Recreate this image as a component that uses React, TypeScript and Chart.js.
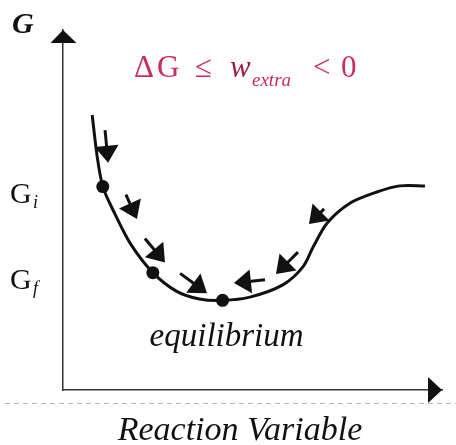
import React, { useEffect, useRef } from "react";
import { Chart, registerables } from "chart.js";

Chart.register(...registerables);

// Gibbs energy along the reaction coordinate
const reactionVar = [0.77, 0.9, 1.05, 1.32, 1.77, 2.37, 3.0, 3.6, 4.21, 4.93, 5.8, 6.33, 6.6, 6.97, 7.57, 8.28, 8.89, 9.55];
const gibbs = [7.64, 6.5, 5.65, 5.0, 4.08, 3.26, 2.74, 2.53, 2.49, 2.58, 2.92, 3.42, 3.97, 4.64, 5.19, 5.5, 5.67, 5.67];

// Marked states: initial, final, equilibrium
const stateX = [1.05, 2.37, 4.21];
const stateG = [5.65, 3.26, 2.49];

// Energy levels named on the G axis
const levelValues = [5.65, 3.26];
const levelSubscripts = ["i", "f"];

// Direction-of-change arrows (tail -> tip)
const arrowTailX = [1.11, 1.66, 2.16, 3.09, 5.33, 6.2, 6.89];
const arrowTailG = [7.22, 5.43, 4.21, 3.24, 3.06, 3.83, 5.03];
const arrowTipX = [1.19, 1.95, 2.69, 3.8, 4.51, 5.62, 6.49];
const arrowTipG = [6.31, 4.75, 3.54, 2.69, 2.97, 3.22, 4.61];

const yAxisLabel = "G";
const xAxisLabel = "Reaction Variable";
const equilibriumLabel = "equilibrium";

const SERIF = '"Liberation Serif", "Times New Roman", serif';
const INK = "#111";
const ACCENT = "#cc2b5e";
const ACCENT_DARK = "#9c2046";

function drawArrow(ctx: CanvasRenderingContext2D, x1: number, y1: number, x2: number, y2: number) {
  const dx = x2 - x1;
  const dy = y2 - y1;
  const len = Math.hypot(dx, dy) || 1;
  const ux = dx / len;
  const uy = dy / len;
  const headLen = Math.min(17, len);
  const halfW = 12;
  const bx = x2 - ux * headLen;
  const by = y2 - uy * headLen;
  ctx.save();
  ctx.strokeStyle = INK;
  ctx.fillStyle = INK;
  ctx.lineWidth = 3;
  ctx.lineCap = "butt";
  if (len > headLen + 1) {
    ctx.beginPath();
    ctx.moveTo(x1, y1);
    ctx.lineTo(bx + ux * 2, by + uy * 2);
    ctx.stroke();
  }
  ctx.beginPath();
  ctx.moveTo(x2, y2);
  ctx.lineTo(bx - uy * halfW, by + ux * halfW);
  ctx.lineTo(bx + uy * halfW, by - ux * halfW);
  ctx.closePath();
  ctx.fill();
  ctx.restore();
}

const diagramPlugin = {
  id: "diagramDecorations",
  beforeDraw(chart: any) {
    const { ctx, chartArea } = chart;
    // dashed separator under the horizontal axis
    ctx.save();
    ctx.strokeStyle = "#b5b5b5";
    ctx.lineWidth = 1;
    ctx.setLineDash([5, 4]);
    ctx.beginPath();
    ctx.moveTo(5, chartArea.bottom + 13.5);
    ctx.lineTo(chart.width, chartArea.bottom + 13.5);
    ctx.stroke();
    ctx.restore();
  },
  afterDraw(chart: any) {
    const { ctx, chartArea, scales } = chart;
    const xs = scales.x;
    const ys = scales.y;
    ctx.save();

    // axis arrowheads
    ctx.fillStyle = INK;
    const ax = chartArea.left;
    const ay = chartArea.bottom;
    ctx.beginPath();
    ctx.moveTo(ax, chartArea.top);
    ctx.lineTo(ax - 12.5, chartArea.top + 13);
    ctx.lineTo(ax + 13.5, chartArea.top + 13);
    ctx.closePath();
    ctx.fill();
    ctx.beginPath();
    ctx.moveTo(chartArea.right, ay);
    ctx.lineTo(chartArea.right - 14, ay - 13);
    ctx.lineTo(chartArea.right - 14, ay + 13);
    ctx.closePath();
    ctx.fill();

    // direction arrows
    for (let i = 0; i < arrowTipX.length; i++) {
      drawArrow(
        ctx,
        xs.getPixelForValue(arrowTailX[i]),
        ys.getPixelForValue(arrowTailG[i]),
        xs.getPixelForValue(arrowTipX[i]),
        ys.getPixelForValue(arrowTipG[i])
      );
    }

    // axis names
    ctx.fillStyle = INK;
    ctx.textBaseline = "alphabetic";
    ctx.textAlign = "left";
    ctx.font = `italic bold 30px ${SERIF}`;
    ctx.fillText(yAxisLabel, 12, chartArea.top + 3);

    ctx.font = `italic 34px ${SERIF}`;
    ctx.textAlign = "center";
    ctx.fillText(xAxisLabel, 240, chartArea.bottom + 50);

    // level names G_i, G_f
    ctx.textAlign = "left";
    levelValues.forEach((v, i) => {
      const y = ys.getPixelForValue(v) + 16;
      ctx.font = `30px ${SERIF}`;
      ctx.fillText("G", 10, y);
      ctx.font = `italic 18px ${SERIF}`;
      ctx.fillText(levelSubscripts[i], 33, y + 5);
    });

    // equilibrium label under the minimum
    const ex = xs.getPixelForValue(stateX[2]);
    const ey = ys.getPixelForValue(stateG[2]);
    ctx.textAlign = "center";
    ctx.font = `italic 33px ${SERIF}`;
    ctx.fillText(equilibriumLabel, ex + 4, ey + 46);

    // spontaneity condition
    ctx.fillStyle = ACCENT;
    ctx.textAlign = "left";
    const base = 77;
    ctx.font = `31px ${SERIF}`;
    ctx.fillText("\u0394", 134, base);
    ctx.fillText("G", 157, base);
    ctx.fillText("\u2264", 195, base);
    ctx.fillStyle = ACCENT_DARK;
    ctx.font = `italic 31px ${SERIF}`;
    ctx.fillText("w", 230, base);
    ctx.fillStyle = ACCENT;
    ctx.font = `italic 19px ${SERIF}`;
    ctx.fillText("extra", 252, base + 9);
    ctx.font = `31px ${SERIF}`;
    ctx.fillText("<", 313, base);
    ctx.fillText("0", 341, base);

    ctx.restore();
  },
};

export default function App() {
  const canvasRef = useRef<HTMLCanvasElement>(null);

  useEffect(() => {
    const prevMargin = document.body.style.margin;
    document.body.style.margin = "0";
    const canvas = canvasRef.current;
    if (!canvas) return;

    const chart = new Chart(canvas, {
      type: "line",
      data: {
        datasets: [
          {
            type: "line",
            data: reactionVar.map((x, i) => ({ x, y: gibbs[i] })),
            borderColor: INK,
            borderWidth: 3,
            pointRadius: 0,
            tension: 0.3,
            fill: false,
          },
          {
            type: "scatter",
            data: stateX.map((x, i) => ({ x, y: stateG[i] })),
            backgroundColor: INK,
            borderColor: INK,
            pointRadius: 6.5,
            borderWidth: 0,
          },
        ],
      },
      options: {
        responsive: false,
        animation: false,
        devicePixelRatio: 1,
        layout: { padding: { left: 63, right: 14, top: 30, bottom: 55 } },
        plugins: { legend: { display: false }, tooltip: { enabled: false } },
        events: [],
        scales: {
          x: {
            type: "linear",
            min: 0,
            max: 10,
            grid: { display: false, drawTicks: false },
            ticks: { display: false },
            border: { display: true, color: "#333", width: 1.5 },
          },
          y: {
            type: "linear",
            min: 0,
            max: 10,
            grid: { display: false, drawTicks: false },
            ticks: { display: false },
            border: { display: true, color: "#333", width: 1.5 },
          },
        },
      },
      plugins: [diagramPlugin],
    } as any);

    return () => {
      chart.destroy();
      document.body.style.margin = prevMargin;
    };
  }, []);

  return (
    <canvas
      ref={canvasRef}
      width={456}
      height={445}
      style={{ display: "block", width: 456, height: 445 }}
    />
  );
}
